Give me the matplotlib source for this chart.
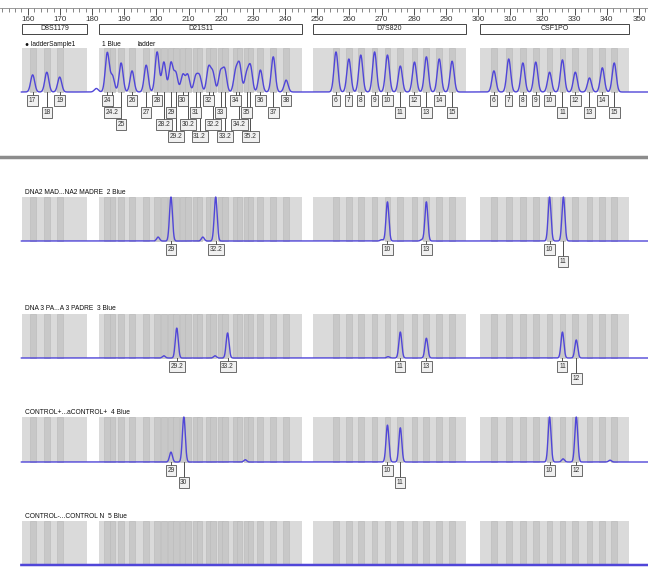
import numpy as np
import matplotlib.pyplot as plt
from matplotlib.patches import Rectangle

plt.rcParams['font.family'] = ['Liberation Sans', 'DejaVu Sans']

W, H = 648, 568
BP_MIN, BP_MAX = 151.35, 352.8

# size ruler (bp)
ruler_ticks = list(range(160, 351, 10))

# marker bin ranges (bp)
marker_names = ["D8S1179", "D21S11", "D7S820", "CSF1PO"]
marker_start = [158.1, 182.2, 248.7, 300.6]
marker_end = [178.5, 245.3, 296.2, 346.9]

# allelic ladder, per marker: label, size (bp), relative height, label row
d8_labels = ["17", "18", "19"]
d8_sizes = [161.5, 165.9, 169.9]
d8_heights = [0.39, 0.45, 0.34]
d8_rows = [1, 2, 1]

d21_labels = ["24", "24.2", "25", "26", "27", "28", "28.2", "29", "29.2", "30", "30.2", "31",
              "31.2", "32", "32.2", "33", "33.2", "34", "34.2", "35", "35.2", "36", "37", "38"]
d21_sizes = [184.7, 186.3, 189.0, 192.4, 196.8, 200.2, 202.3, 204.5, 206.0, 208.2, 209.7, 212.2,
             213.4, 216.2, 217.5, 219.9, 221.2, 224.6, 225.8, 228.0, 229.2, 232.3, 236.3, 240.3]
d21_heights = [0.89, 0.36, 0.66, 0.48, 0.61, 0.91, 0.68, 0.66, 0.43, 0.39, 0.39, 0.34,
               0.34, 0.55, 0.43, 0.45, 0.50, 0.45, 0.61, 0.39, 0.57, 0.50, 0.80, 0.27]
d21_rows = [1, 2, 3, 1, 2, 1, 3, 2, 4, 1, 3, 2, 4, 1, 3, 2, 4, 1, 3, 2, 4, 1, 2, 1]

d7_labels = ["6", "7", "8", "9", "10", "11", "12", "13", "14", "15"]
d7_sizes = [255.8, 259.8, 263.5, 267.8, 271.8, 275.8, 280.2, 283.9, 287.9, 291.9]
d7_heights = [0.91, 0.75, 0.84, 0.91, 0.84, 0.59, 0.68, 0.80, 0.75, 0.70]
d7_rows = [1, 1, 1, 1, 1, 2, 1, 2, 1, 2]

csf_labels = ["6", "7", "8", "9", "10", "11", "12", "13", "14", "15"]
csf_sizes = [304.9, 309.5, 313.9, 317.9, 322.2, 326.2, 330.2, 334.6, 338.6, 342.3]
csf_heights = [0.48, 0.75, 0.66, 0.68, 0.45, 0.73, 0.45, 0.32, 0.55, 0.66]
csf_rows = [1, 1, 1, 1, 1, 2, 1, 2, 1, 2]

ladder_extra_sizes = [181.3]
ladder_extra_heights = [0.08]

# samples
sample_names = ["DNA2 MAD...NA2 MADRE  2 Blue",
                "DNA 3 PA...A 3 PADRE  3 Blue",
                "CONTROL+...aCONTROL+  4 Blue",
                "CONTROL-...CONTROL N  5 Blue"]

s2_labels = ["29", "32.2", "10", "13", "10", "11"]
s2_sizes = [204.5, 218.4, 271.8, 283.9, 322.2, 326.5]
s2_heights = [1.0, 1.0, 0.89, 0.89, 1.0, 1.0]
s2_rows = [1, 1, 1, 1, 1, 2]
s2_minor_sizes = [200.5, 214.4, 270.0, 282.5]
s2_minor_heights = [0.09, 0.09, 0.03, 0.03]

s3_labels = ["29.2", "33.2", "11", "13", "11", "12"]
s3_sizes = [206.3, 222.1, 275.8, 283.9, 326.2, 330.5]
s3_heights = [0.68, 0.57, 0.59, 0.45, 0.59, 0.41]
s3_rows = [1, 1, 1, 1, 1, 2]
s3_minor_sizes = [202.3, 218.2, 272.0]
s3_minor_heights = [0.05, 0.05, 0.03]

s4_labels = ["29", "30", "10", "11", "10", "12"]
s4_sizes = [204.5, 208.5, 271.8, 275.8, 322.2, 330.5]
s4_heights = [0.22, 1.0, 0.82, 0.76, 1.0, 1.0]
s4_rows = [1, 2, 1, 2, 1, 1]
s4_minor_sizes = [227.6, 326.4, 341.0]
s4_minor_heights = [0.05, 0.07, 0.04]

all_bins = [d8_sizes, d21_sizes, d7_sizes, csf_sizes]

TRACE = '#5046d8'
ROW_OFFSET = [8.5, 20.5, 32.5, 44.5]   # px below baseline for label rows

fig = plt.figure(figsize=(W / 100, H / 100), dpi=100)


def make_panel(top_px, bottom_px, gray_top, base):
    unit = base - gray_top
    ax = fig.add_axes([0, 1 - bottom_px / H, 1, (bottom_px - top_px) / H])
    ax.set_xlim(BP_MIN, BP_MAX)
    ax.set_ylim((base - bottom_px) / unit, (base - top_px) / unit)
    ax.axis('off')
    return ax, (lambda px: (base - px) / unit), base


def draw_bins(ax):
    for st, en, sizes in zip(marker_start, marker_end, all_bins):
        ax.add_patch(Rectangle((st, 0), en - st, 1, fc='#dadada', ec='none', zorder=1))
        for s in sizes:
            ax.add_patch(Rectangle((s - 0.9, 0), 1.8, 1, fc='#c8c8c8', ec='#b9b9b9',
                                   lw=0.4, zorder=1))


def draw_trace(ax, sizes, heights, lw=1.0, sigma=0.5):
    x = np.linspace(158.0, BP_MAX, 4000)
    y = np.zeros_like(x)
    for s, h in zip(sizes, heights):
        y += h * np.exp(-(x - s) ** 2 / (2 * sigma ** 2))
    ax.plot(x, y, color=TRACE, lw=lw, zorder=3)


def draw_labels(ax, to_y, base, labels, sizes, rows):
    for lab, s, r in zip(labels, sizes, rows):
        off = ROW_OFFSET[r - 1]
        ax.plot([s, s], [0, to_y(base + off - 4.5)], color='#333333', lw=0.6, zorder=4)
        ax.text(s, to_y(base + off), lab, ha='center', va='center', fontsize=4.8,
                color='#333333', zorder=5,
                bbox=dict(boxstyle='square,pad=0.25', fc='#f0f0f0', ec='#555555', lw=0.6))


# ruler
rax = fig.add_axes([0, 1 - 8 / H, 1, 5 / H])
rax.set_xlim(BP_MIN, BP_MAX)
for sp in ['top', 'left', 'right']:
    rax.spines[sp].set_visible(False)
rax.spines['bottom'].set_color('#888888')
rax.spines['bottom'].set_linewidth(0.6)
rax.set_yticks([])
rax.set_xticks(ruler_ticks)
rax.set_xticks(np.arange(152, 353, 2), minor=True)
rax.tick_params(axis='x', which='major', length=5, width=0.6, labelsize=5.8, pad=1,
                colors='#333333')
rax.tick_params(axis='x', which='minor', length=3, width=0.5, color='#555555')

# ladder panel
ax, to_y, base = make_panel(20, 162, 48, 92)
draw_bins(ax)
for st, en, name in zip(marker_start, marker_end, marker_names):
    y0, y1 = to_y(34), to_y(24)
    ax.add_patch(Rectangle((st, y0), en - st, y1 - y0, fc='white', ec='#444444', lw=0.7))
    ax.text((st + en) / 2, (y0 + y1) / 2, name, ha='center', va='center', fontsize=5,
            color='#222222')
ax.text(159.0, to_y(45), "\u25cf ladderSample1", fontsize=4.8, va='center', color='#111111')
ax.text(183.0, to_y(45), "1 Blue", fontsize=4.8, va='center', color='#111111')
ax.text(194.0, to_y(45), "ladder", fontsize=4.8, va='center', color='#111111')
draw_trace(ax, d8_sizes + d21_sizes + d7_sizes + csf_sizes + ladder_extra_sizes,
           d8_heights + d21_heights + d7_heights + csf_heights + ladder_extra_heights,
           sigma=0.62)
draw_labels(ax, to_y, base, d8_labels, d8_sizes, d8_rows)
draw_labels(ax, to_y, base, d21_labels, d21_sizes, d21_rows)
draw_labels(ax, to_y, base, d7_labels, d7_sizes, d7_rows)
draw_labels(ax, to_y, base, csf_labels, csf_sizes, csf_rows)
ax.plot([BP_MIN, BP_MAX], [to_y(157), to_y(157)], color='#8c8c8c', lw=2.5)

# sample panels
panels = [(185, 275, 197, 241), (300, 392, 314, 358), (403, 497, 417, 462), (508, 568, 521, 565)]
samples = [(s2_labels, s2_sizes, s2_heights, s2_rows, s2_minor_sizes, s2_minor_heights),
           (s3_labels, s3_sizes, s3_heights, s3_rows, s3_minor_sizes, s3_minor_heights),
           (s4_labels, s4_sizes, s4_heights, s4_rows, s4_minor_sizes, s4_minor_heights),
           ([], [], [], [], [], [])]

for (top, bot, gt, b), name, (labs, sz, hts, rows, msz, mht) in zip(panels, sample_names, samples):
    ax, to_y, base = make_panel(top, bot, gt, b)
    draw_bins(ax)
    ax.text(159.0, to_y(gt - 5), name, fontsize=4.8, va='center', color='#111111')
    if labs:
        draw_trace(ax, sz + msz, hts + mht, sigma=0.45)
        draw_labels(ax, to_y, base, labs, sz, rows)
    else:
        draw_trace(ax, [], [], lw=1.8)

fig.savefig('out.png', dpi=100)
